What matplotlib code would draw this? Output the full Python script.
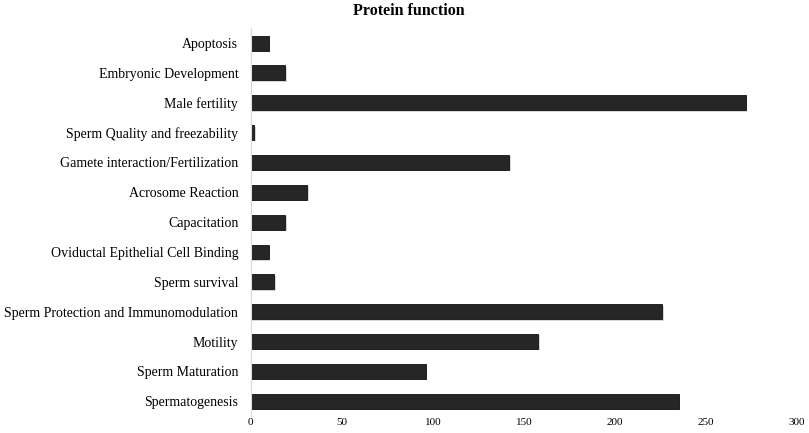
import matplotlib.pyplot as plt
import matplotlib.patheffects as pe

# protein function categories, top to bottom as in the chart
categories = [
    "Apoptosis",
    "Embryonic Development",
    "Male fertility",
    "Sperm Quality and freezability",
    "Gamete interaction/Fertilization",
    "Acrosome Reaction",
    "Capacitation",
    "Oviductal Epithelial Cell Binding",
    "Sperm survival",
    "Sperm Protection and Immunomodulation",
    "Motility",
    "Sperm Maturation",
    "Spermatogenesis",
]
counts = [10, 19, 272, 2, 142, 31, 19, 10, 13, 226, 158, 96, 235]
xticks = [0, 50, 100, 150, 200, 250, 300]

plt.rcParams['font.family'] = ['Liberation Serif', 'DejaVu Serif']

fig = plt.figure(figsize=(8.09, 4.33), dpi=100)
ax = fig.add_axes([0.310, 0.039, 0.675, 0.896])

ypos = list(range(len(categories)))
bars = ax.barh(ypos, counts, height=0.5, color="#262626", edgecolor="#111111", linewidth=0.6)
for b in bars:
    b.set_path_effects([pe.SimplePatchShadow(offset=(1, -1), shadow_rgbFace="#bbbbbb", alpha=0.6), pe.Normal()])

ax.set_ylim(len(categories) - 0.5, -0.5)
ax.set_xlim(0, 300)
ax.set_yticks(ypos)
ax.set_yticklabels(categories, fontsize=10)
ax.set_xticks(xticks)
ax.set_xticklabels([str(t) for t in xticks], fontsize=8)
ax.tick_params(axis='both', length=0)
ax.tick_params(axis='y', pad=9)
ax.tick_params(axis='x', pad=1.5)

for s in ["top", "right", "bottom"]:
    ax.spines[s].set_visible(False)
ax.spines["left"].set_color("#d9d9d9")
ax.spines["left"].set_linewidth(0.8)

fig.text(0.505, 0.975, "Protein function", ha="center", va="center", fontsize=11.5, fontweight="bold")

fig.savefig("out.png", dpi=100)
